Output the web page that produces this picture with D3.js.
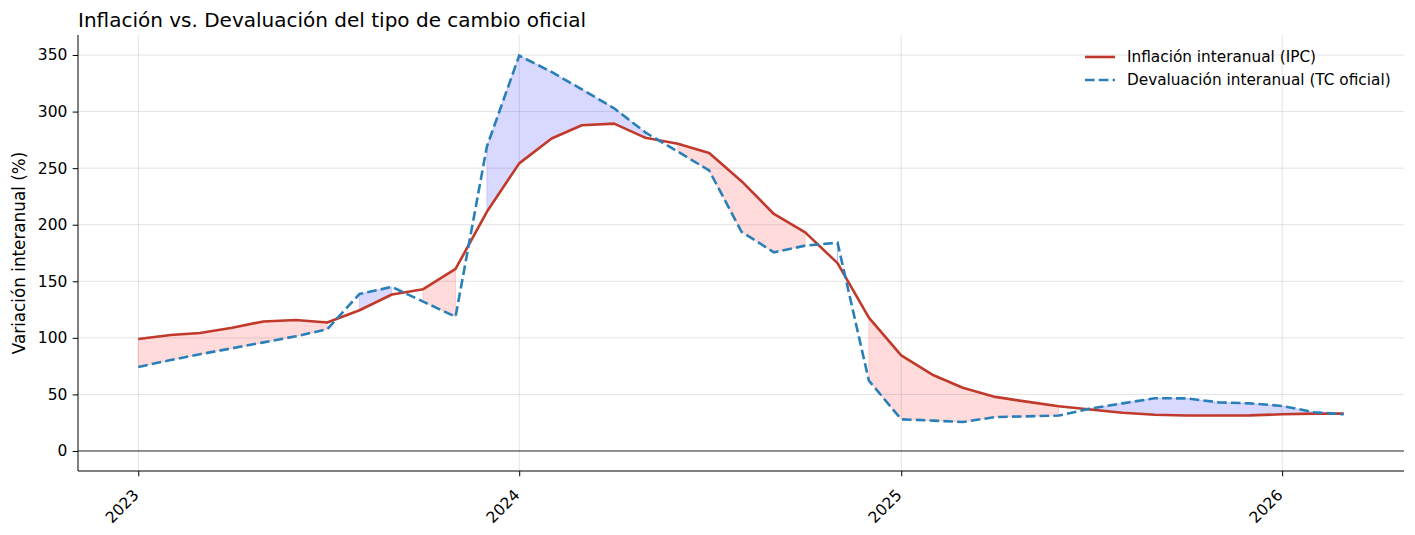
<!DOCTYPE html>
<html>
<head>
<meta charset="utf-8">
<script src="https://cdn.jsdelivr.net/npm/d3@7"></script>
<style>
  body { margin: 0; background: #fff; }
  svg text { font-family: "DejaVu Sans", sans-serif; fill: #000; }
</style>
</head>
<body>
<script>
// Monthly data, Jan 2023 .. Mar 2026 (first day of each month)
const months = [
  '2023-01', '2023-02', '2023-03', '2023-04', '2023-05', '2023-06',
  '2023-07', '2023-08', '2023-09', '2023-10', '2023-11', '2023-12',
  '2024-01', '2024-02', '2024-03', '2024-04', '2024-05', '2024-06',
  '2024-07', '2024-08', '2024-09', '2024-10', '2024-11', '2024-12',
  '2025-01', '2025-02', '2025-03', '2025-04', '2025-05', '2025-06',
  '2025-07', '2025-08', '2025-09', '2025-10', '2025-11', '2025-12',
  '2026-01', '2026-02', '2026-03'
];

// Inflación interanual (IPC), %
const ipc = [
  99.0, 102.5, 104.3, 109.0, 114.5, 115.8,
  113.5, 124.4, 138.3, 143.0, 160.9, 211.4,
  254.2, 276.2, 287.9, 289.4, 276.8, 271.5,
  263.4, 238.5, 209.5, 193.2, 166.0, 117.8,
  84.5, 66.9, 55.9, 47.8, 43.6, 39.6,
  36.6, 33.8, 32.0, 31.4, 31.4, 31.5,
  32.4, 33.0, 33.0
];

// Devaluación interanual del tipo de cambio oficial, %
const tc = [
  74.3, 80.4, 85.5, 90.8, 96.0, 101.4,
  107.6, 138.8, 145.0, 132.0, 118.7, 269.0,
  349.5, 335.0, 319.7, 302.9, 281.5, 264.6,
  248.0, 193.8, 175.6, 181.5, 184.1, 62.2,
  28.0, 26.8, 25.6, 30.0, 30.6, 31.3,
  37.5, 42.1, 46.6, 46.5, 43.0, 42.1,
  39.8, 34.2, 32.4
];

const yTicks = [0, 50, 100, 150, 200, 250, 300, 350];
const xTicks = ['2023-01', '2024-01', '2025-01', '2026-01'];
const xTickLabels = ['2023', '2024', '2025', '2026'];

const width = 1415;
const height = 535;
const margin = { top: 35, right: 11, bottom: 64, left: 78 };

const parse = d3.timeParse('%Y-%m');
const dates = months.map(parse);
const data = dates.map((d, i) => ({ date: d, ipc: ipc[i], tc: tc[i] }));

const svg = d3.select('body')
  .append('svg')
  .attr('width', width)
  .attr('height', height);

// 5% padding on x, like matplotlib default margins
const t0 = dates[0].getTime();
const t1 = dates[dates.length - 1].getTime();
const pad = (t1 - t0) * 0.05;
const x = d3.scaleTime()
  .domain([new Date(t0 - pad), new Date(t1 + pad)])
  .range([margin.left, width - margin.right]);

const y = d3.scaleLinear()
  .domain([-17.7, 367.7])
  .range([height - margin.bottom, margin.top]);

// Grid
const grid = svg.append('g');
grid.selectAll('line.h')
  .data(yTicks)
  .enter()
  .append('line')
  .attr('x1', margin.left)
  .attr('x2', width - margin.right)
  .attr('y1', d => y(d))
  .attr('y2', d => y(d))
  .attr('stroke', '#b0b0b0')
  .attr('stroke-opacity', 0.35)
  .attr('stroke-width', 1);

grid.selectAll('line.v')
  .data(xTicks.map(parse))
  .enter()
  .append('line')
  .attr('x1', d => x(d))
  .attr('x2', d => x(d))
  .attr('y1', margin.top)
  .attr('y2', height - margin.bottom)
  .attr('stroke', '#b0b0b0')
  .attr('stroke-opacity', 0.35)
  .attr('stroke-width', 1);

// Fills between, segmented at data points (no interpolation at crossings)
function runs(cond) {
  const out = [];
  let cur = [];
  data.forEach(d => {
    if (cond(d)) {
      cur.push(d);
    } else {
      if (cur.length) out.push(cur);
      cur = [];
    }
  });
  if (cur.length) out.push(cur);
  return out;
}

const area = d3.area()
  .x(d => x(d.date))
  .y0(d => y(d.tc))
  .y1(d => y(d.ipc));

svg.append('g')
  .selectAll('path')
  .data(runs(d => d.ipc >= d.tc))
  .enter()
  .append('path')
  .attr('d', area)
  .attr('fill', 'red')
  .attr('fill-opacity', 0.14)
  .attr('stroke', 'red')
  .attr('stroke-opacity', 0.14)
  .attr('stroke-width', 1);

svg.append('g')
  .selectAll('path')
  .data(runs(d => d.tc > d.ipc))
  .enter()
  .append('path')
  .attr('d', area)
  .attr('fill', 'blue')
  .attr('fill-opacity', 0.15)
  .attr('stroke', 'blue')
  .attr('stroke-opacity', 0.15)
  .attr('stroke-width', 1);

// Zero line
svg.append('line')
  .attr('x1', margin.left)
  .attr('x2', width - margin.right)
  .attr('y1', y(0))
  .attr('y2', y(0))
  .attr('stroke', '#000')
  .attr('stroke-width', 0.8);

// Lines
const lineIpc = d3.line().x(d => x(d.date)).y(d => y(d.ipc));
const lineTc = d3.line().x(d => x(d.date)).y(d => y(d.tc));

svg.append('path')
  .datum(data)
  .attr('d', lineIpc)
  .attr('fill', 'none')
  .attr('stroke', '#c0392b')
  .attr('stroke-width', 2.6)
  .attr('stroke-linejoin', 'round');

svg.append('path')
  .datum(data)
  .attr('d', lineTc)
  .attr('fill', 'none')
  .attr('stroke', '#2980b9')
  .attr('stroke-width', 2.6)
  .attr('stroke-dasharray', '9.6,4.2');

// Axes
const yAxis = d3.axisLeft(y)
  .tickValues(yTicks)
  .tickSize(5.3)
  .tickPadding(5.3);

svg.append('g')
  .attr('transform', `translate(${margin.left},0)`)
  .call(yAxis)
  .call(g => g.select('.domain').attr('d', `M0,${margin.top}V${height - margin.bottom}`).attr('stroke-width', 1))
  .call(g => g.selectAll('text').attr('font-size', 15.5).attr('font-family', 'DejaVu Sans'));

const xAxis = d3.axisBottom(x)
  .tickValues(xTicks.map(parse))
  .tickFormat((d, i) => xTickLabels[i])
  .tickSize(5.3)
  .tickPadding(5.3);

svg.append('g')
  .attr('transform', `translate(0,${height - margin.bottom})`)
  .call(xAxis)
  .call(g => g.select('.domain').attr('d', `M${margin.left},0H${width - margin.right}`).attr('stroke-width', 1))
  .call(g => g.selectAll('text')
    .attr('font-size', 15.5)
    .attr('font-family', 'DejaVu Sans')
    .attr('text-anchor', 'end')
    .attr('y', 0)
    .attr('dy', 0)
    .attr('transform', 'translate(1,25) rotate(-45)'));

// Y label
svg.append('text')
  .attr('transform', `translate(25,${(margin.top + height - margin.bottom) / 2}) rotate(-90)`)
  .attr('text-anchor', 'middle')
  .attr('font-size', 16.8)
  .text('Variación interanual (%)');

// Title
svg.append('text')
  .attr('x', margin.left)
  .attr('y', 27)
  .attr('font-size', 20)
  .text('Inflación vs. Devaluación del tipo de cambio oficial');

// Legend
const legend = svg.append('g')
  .attr('transform', 'translate(1085,57)');

const legendItems = [
  { label: 'Inflación interanual (IPC)', color: '#c0392b', dash: null },
  { label: 'Devaluación interanual (TC oficial)', color: '#2980b9', dash: '9.6,4.2' }
];

legendItems.forEach((item, i) => {
  legend.append('line')
    .attr('x1', 0)
    .attr('x2', 30)
    .attr('y1', i * 23)
    .attr('y2', i * 23)
    .attr('stroke', item.color)
    .attr('stroke-width', 2.6)
    .attr('stroke-dasharray', item.dash);
  legend.append('text')
    .attr('x', 42)
    .attr('y', i * 23)
    .attr('dy', '0.35em')
    .attr('font-size', 15.3)
    .text(item.label);
});
</script>
</body>
</html>
